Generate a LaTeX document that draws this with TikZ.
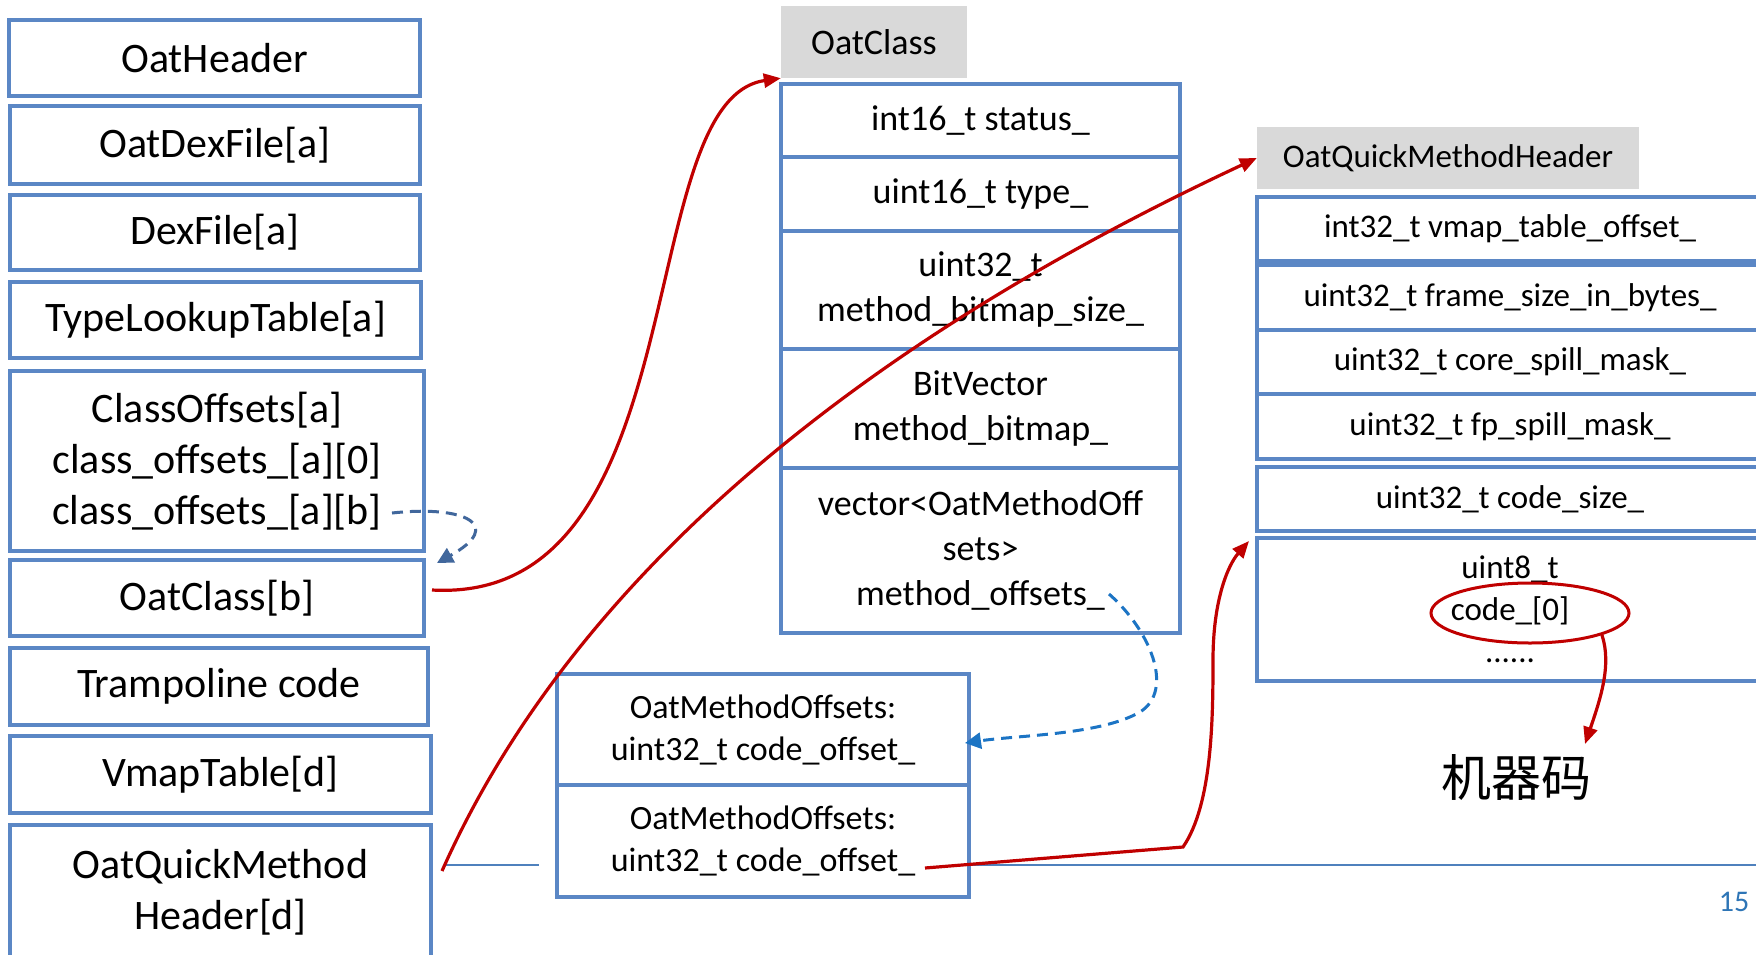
\documentclass[tikz,border=0pt]{standalone}
\usepackage{fontspec}
\setmainfont{Carlito}
\newfontfamily\cjk{Noto Sans CJK SC}
\usetikzlibrary{arrows.meta,shapes.geometric}
\definecolor{boxblue}{HTML}{5B87C5}
\definecolor{hdrgrey}{HTML}{D9D9D9}
\definecolor{arrred}{HTML}{C00000}
\definecolor{dashnavy}{HTML}{41679C}
\definecolor{dashblue}{HTML}{1C74C4}
\definecolor{footblue}{HTML}{4F81BD}
\definecolor{pgblue}{HTML}{2E75B6}
\begin{document}
\begin{tikzpicture}[x=1pt,y=-1pt,
  cell/.style={draw=boxblue, line width=3.2pt, fill=white, inner sep=0pt, align=center, anchor=center},
  big/.style={font=\fontsize{42}{51}\selectfont},
  mid/.style={font=\fontsize{36}{45}\selectfont},
  sml/.style={font=\fontsize{33}{42}\selectfont},
  omo/.style={font=\fontsize{34}{42}\selectfont},
  hdr/.style={fill=hdrgrey, inner sep=0pt, align=center},
  redarr/.style={draw=arrred, line width=3.2pt, -{Triangle[length=17pt,width=14pt]}},
  dasharr/.style={line width=3pt, dash pattern=on 11pt off 7pt, -{Triangle[length=16pt,width=16pt]}},
  footline/.style={draw=footblue, line width=2.2pt}
]
\useasboundingbox (0,0) rectangle (1756,954);

% footer line
\coordinate (fl1) at (445,865);
\coordinate (fl2) at (539,865);
\coordinate (fl3) at (969,865);
\coordinate (fl4) at (1756,865);
\draw[footline] (fl1) -- (fl2);
\draw[footline] (fl3) -- (fl4);

% left column
\node[cell,big,minimum width=411pt,minimum height=76pt] (oh) at (214.5,58) {OatHeader};
\node[cell,big,minimum width=410pt,minimum height=78pt] (odf) at (215,145) {OatDexFile[a]};
\node[cell,big,minimum width=410pt,minimum height=75pt] (df) at (215,232.5) {DexFile[a]};
\node[cell,big,minimum width=411pt,minimum height=76pt] (tlt) at (215.5,320) {TypeLookupTable[a]};
\node[cell,big,minimum width=414pt,minimum height=180pt] (co) at (217,461) {ClassOffsets[a]\\class\_offsets\_[a][0]\\class\_offsets\_[a][b]};
\node[cell,big,minimum width=414pt,minimum height=76pt] (ocb) at (217,598) {OatClass[b]};
\node[cell,big,minimum width=418pt,minimum height=77pt] (tc) at (219,686.5) {Trampoline code};
\node[cell,big,minimum width=421pt,minimum height=77pt] (vt) at (220.5,774.5) {VmapTable[d]};
\node[cell,big,minimum width=421pt,minimum height=134pt] (oqm) at (220.5,892) {OatQuickMethod\\Header[d]};

% OatClass
\node[hdr,mid,minimum width=186pt,minimum height=72pt] (och) at (874,42) {OatClass};
\node[cell,mid,minimum width=399pt,minimum height=73pt] (r1) at (980.5,120.5) {int16\_t status\_};
\node[cell,mid,minimum width=399pt,minimum height=74pt] (r2) at (980.5,194) {uint16\_t type\_};
\node[cell,mid,minimum width=399pt,minimum height=118pt] (r3) at (980.5,290) {uint32\_t\\method\_bitmap\_size\_};
\node[cell,mid,minimum width=399pt,minimum height=119pt] (r4) at (980.5,408.5) {BitVector\\method\_bitmap\_};
\node[cell,mid,minimum width=399pt,minimum height=165pt] (r5) at (980.5,550.5) {vector<OatMethodOff\\sets>\\method\_offsets\_};

% OatMethodOffsets
\node[cell,omo,minimum width=412pt,minimum height=111pt] (omo1) at (763,729.5) {OatMethodOffsets:\\uint32\_t code\_offset\_};
\node[cell,omo,minimum width=412pt,minimum height=112pt] (omo2) at (763,841) {OatMethodOffsets:\\uint32\_t code\_offset\_};

% OatQuickMethodHeader
\node[hdr,sml,minimum width=382pt,minimum height=62pt] (qh) at (1448,158) {OatQuickMethodHeader};
\node[cell,sml,minimum width=506pt,minimum height=64pt] (q1) at (1510,229) {int32\_t vmap\_table\_offset\_};
\node[cell,sml,minimum width=506pt,minimum height=65pt] (q2) at (1510,297.5) {uint32\_t frame\_size\_in\_bytes\_};
\node[cell,sml,minimum width=506pt,minimum height=64pt] (q3) at (1510,362) {uint32\_t core\_spill\_mask\_};
\node[cell,sml,minimum width=506pt,minimum height=65pt] (q4) at (1510,426.5) {uint32\_t fp\_spill\_mask\_};
\node[cell,sml,minimum width=506pt,minimum height=64pt] (q5) at (1510,499) {uint32\_t code\_size\_};
\node[cell,sml,minimum width=506pt,minimum height=143pt] (q6) at (1510,609.5) {uint8\_t\\code\_[0]\\......};

\node[ellipse, draw=arrred, line width=3pt, minimum width=198pt, minimum height=60pt, inner sep=0pt] (ell) at (1530,613) {};
\node[font=\cjk\fontsize{50}{50}\selectfont, inner sep=0pt] (jq) at (1516,777) {机器码};
\node[text=pgblue, font=\fontsize{30}{30}\selectfont, inner sep=0pt] (pg) at (1734,902) {15};

% connector coordinates
\coordinate (cab) at (392,513);
\coordinate (cabt) at (437,563);
\coordinate (s1) at (432,590);
\coordinate (s2) at (442,871);
\coordinate (s3) at (925,868);
\coordinate (k3) at (1183,847);
\coordinate (t3) at (1249,541);
\coordinate (t4) at (1585,744);
\coordinate (mo) at (1109,594);
\coordinate (mot) at (965,743);

% connectors
\draw[dasharr, draw=dashnavy] (cab) .. controls (465,505) and (505,525) .. (cabt);
\draw[redarr] (s1) .. controls (700,605) and (630,100) .. (och.south west);
\draw[redarr] (s2) .. controls (540,650) and (760,390) .. (qh.west);
\draw[redarr] (s3) -- (k3) .. controls (1212,805) and (1213,720) .. (1213,660) .. controls (1213,600) and (1228,565) .. (t3);
\draw[redarr] (ell.-17) .. controls (1612,665) and (1600,700) .. (t4);
\draw[dasharr, draw=dashblue] (mo) .. controls (1150,630) and (1175,690) .. (1140,712) .. controls (1100,735) and (1020,735) .. (mot);
\end{tikzpicture}
\end{document}
